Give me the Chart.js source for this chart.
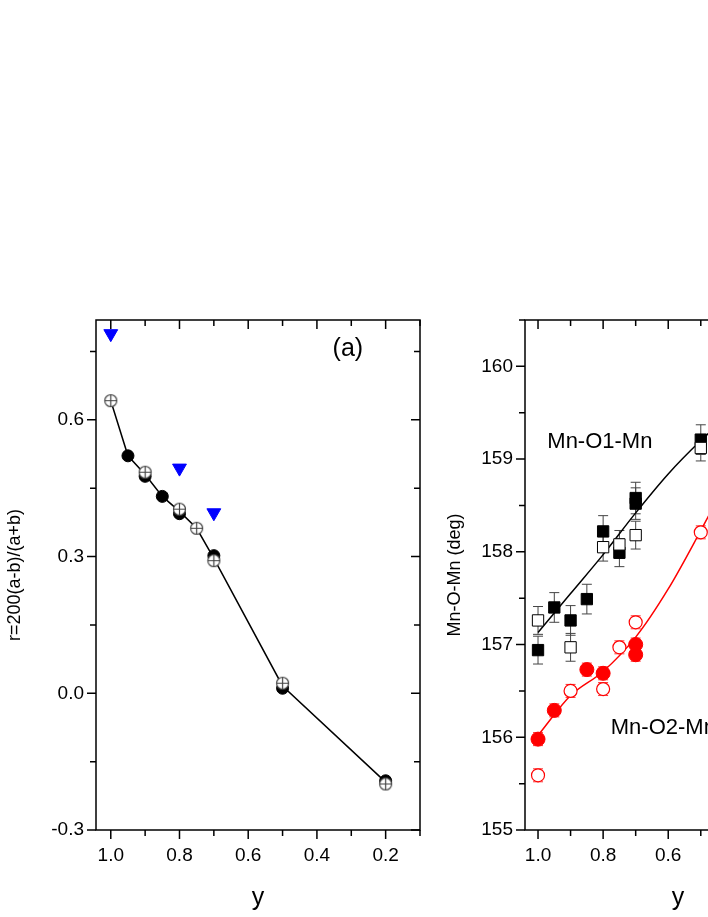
<!DOCTYPE html>
<html>
<head>
<meta charset="utf-8">
<script src="https://cdn.jsdelivr.net/npm/chart.js@4.4.0/dist/chart.umd.min.js"></script>
<style>
  html, body { margin: 0; padding: 0; background: #fff; overflow: hidden; width: 708px; height: 917px; }
  #wrapA { position: absolute; left: 0; top: 0; width: 440px; height: 917px; }
  #wrapB { position: absolute; left: 440px; top: 0; width: 400px; height: 917px; }
</style>
</head>
<body>
<div id="wrapA"><canvas id="chartA"></canvas></div>
<div id="wrapB"><canvas id="chartB"></canvas></div>
<script>
// ---- panel (a) data
const aOpenY = [1.0, 0.9, 0.8, 0.75, 0.7, 0.5, 0.2];
const aOpenR = [0.642, 0.485, 0.404, 0.362, 0.291, 0.022, -0.199];
const aFillY = [0.95, 0.9, 0.85, 0.8, 0.7, 0.5, 0.2];
const aFillR = [0.521, 0.476, 0.432, 0.394, 0.302, 0.011, -0.192];
const aLineY = [1.0, 0.95, 0.9, 0.85, 0.8, 0.75, 0.7, 0.5, 0.2];
const aLineR = [0.642, 0.521, 0.48, 0.432, 0.399, 0.362, 0.296, 0.016, -0.195];
const aTriY = [1.0, 0.8, 0.7];
const aTriR = [0.789, 0.494, 0.396];
const aXTicks = [1.0, 0.8, 0.6, 0.4, 0.2];
const aYTicks = [-0.3, 0.0, 0.3, 0.6];

// ---- panel (b) data
const o1FillY = [1.0, 0.95, 0.9, 0.85, 0.8, 0.75, 0.7, 0.7, 0.5];
const o1FillA = [156.94, 157.40, 157.26, 157.49, 158.22, 157.99, 158.58, 158.52, 159.21];
const o1FillE = [0.15, 0.16, 0.16, 0.16, 0.17, 0.15, 0.17, 0.17, 0.16];
const o1OpenY = [1.0, 0.9, 0.8, 0.75, 0.7, 0.5];
const o1OpenA = [157.26, 156.97, 158.05, 158.08, 158.18, 159.12];
const o1OpenE = [0.15, 0.15, 0.15, 0.15, 0.15, 0.14];
const o1FitY = [1.0, 0.9, 0.8, 0.7, 0.6, 0.5, 0.45];
const o1FitA = [157.13, 157.55, 157.97, 158.42, 158.84, 159.2, 159.36];
const o2FillY = [1.0, 0.95, 0.85, 0.8, 0.7, 0.7];
const o2FillA = [155.98, 156.29, 156.73, 156.69, 157.0, 156.89];
const o2OpenY = [1.0, 0.9, 0.8, 0.75, 0.7, 0.5];
const o2OpenA = [155.59, 156.5, 156.52, 156.97, 157.24, 158.21];
const o2Err = 0.07;
const o2FitY = [1.0, 0.9, 0.8, 0.7, 0.6, 0.5, 0.45];
const o2FitA = [156.02, 156.45, 156.71, 157.08, 157.6, 158.23, 158.56];
const bXTicks = [1.0, 0.8, 0.6, 0.4, 0.2];
const bYTicks = [155, 156, 157, 158, 159, 160];

const FONT = 'Arimo, "Liberation Sans", Arial, sans-serif';
const pts = (xs, ys) => xs.map((x, i) => ({ x: x, y: ys[i] }));

// circle with a cross inside
function crossCircle() {
  const c = document.createElement('canvas');
  c.width = 15; c.height = 15;
  const g = c.getContext('2d');
  g.fillStyle = '#fff';
  g.strokeStyle = '#444';
  g.lineWidth = 1.2;
  g.beginPath(); g.arc(7.5, 7.5, 6, 0, Math.PI * 2); g.fill(); g.stroke();
  g.beginPath(); g.moveTo(1.5, 7.5); g.lineTo(13.5, 7.5); g.moveTo(7.5, 1.5); g.lineTo(7.5, 13.5); g.stroke();
  return c;
}

// frame + in/out ticks, like Origin plots
function framePlugin(xMaj, xMin, yMaj, yMin) {
  return {
    id: 'frame',
    afterDraw(chart) {
      const { ctx, chartArea: a, scales: { x, y } } = chart;
      ctx.save();
      ctx.strokeStyle = '#000';
      ctx.lineWidth = 1.5;
      ctx.strokeRect(a.left, a.top, a.right - a.left, a.bottom - a.top);
      ctx.beginPath();
      const tick = (vals, len) => {
        vals.forEach(v => {
          const px = x.getPixelForValue(v);
          if (px < a.left - 1 || px > a.right + 1) return;
          ctx.moveTo(px, a.bottom); ctx.lineTo(px, a.bottom + len);
          ctx.moveTo(px, a.top); ctx.lineTo(px, a.top + len);
        });
      };
      const tickY = (vals, len) => {
        vals.forEach(v => {
          const py = y.getPixelForValue(v);
          ctx.moveTo(a.left, py); ctx.lineTo(a.left - len, py);
          ctx.moveTo(a.right, py); ctx.lineTo(a.right - len, py);
        });
      };
      tick(xMaj, 9); tick(xMin, 6);
      tickY(yMaj, 9); tickY(yMin, 6);
      ctx.stroke();
      ctx.restore();
    }
  };
}

function textPlugin(items) {
  return {
    id: 'labels',
    afterDraw(chart) {
      const { ctx, scales: { x, y } } = chart;
      ctx.save();
      items.forEach(t => {
        ctx.font = t.size + 'px ' + FONT;
        ctx.fillStyle = '#000';
        ctx.textAlign = 'center';
        ctx.textBaseline = 'middle';
        ctx.fillText(t.text, x.getPixelForValue(t.x), y.getPixelForValue(t.y));
      });
      ctx.restore();
    }
  };
}

const errorBars = {
  id: 'errorBars',
  beforeDatasetsDraw(chart) {
    const { ctx, scales: { x, y } } = chart;
    ctx.save();
    chart.data.datasets.forEach(ds => {
      if (!ds.errors) return;
      ctx.strokeStyle = ds.errColor;
      ctx.lineWidth = 1;
      ds.data.forEach((p, i) => {
        const px = x.getPixelForValue(p.x);
        const e = Array.isArray(ds.errors) ? ds.errors[i] : ds.errors;
        const y1 = y.getPixelForValue(p.y + e), y2 = y.getPixelForValue(p.y - e);
        ctx.beginPath();
        ctx.moveTo(px, y1); ctx.lineTo(px, y2);
        ctx.moveTo(px - 5, y1); ctx.lineTo(px + 5, y1);
        ctx.moveTo(px - 5, y2); ctx.lineTo(px + 5, y2);
        ctx.stroke();
      });
    });
    ctx.restore();
  }
};

function axes(xmin, xmax, ymin, ymax, xTicks, yTicks, yTitle, yWidth, yFmt) {
  return {
    x: {
      type: 'linear', reverse: true, min: xmin, max: xmax,
      grid: { display: false, drawTicks: false }, border: { display: false },
      afterBuildTicks: s => { s.ticks = xTicks.map(v => ({ value: v })); },
      afterFit: s => { s.height = 87; },
      ticks: { color: '#000', font: { family: FONT, size: 19 }, padding: 14, callback: v => v.toFixed(1) },
      title: { display: true, text: 'y', color: '#000', font: { family: FONT, size: 25 }, padding: { top: 12 } }
    },
    y: {
      type: 'linear', min: ymin, max: ymax,
      grid: { display: false, drawTicks: false }, border: { display: false },
      afterBuildTicks: s => { s.ticks = yTicks.map(v => ({ value: v })); },
      afterFit: s => { s.width = yWidth; },
      ticks: { color: '#000', font: { family: FONT, size: 19 }, padding: 12, callback: yFmt },
      title: { display: true, text: yTitle, color: '#000', font: { family: FONT, size: 18 }, padding: { bottom: 4 } }
    }
  };
}

const cc = crossCircle();

new Chart(document.getElementById('chartA'), {
  type: 'scatter',
  data: {
    datasets: [
      { data: pts(aTriY, aTriR), pointStyle: 'triangle', rotation: 180, pointRadius: 8, backgroundColor: '#0000ff', borderColor: '#0000ff' },
      { data: pts(aOpenY, aOpenR), pointStyle: cc },
      { data: pts(aFillY, aFillR), backgroundColor: '#000', borderColor: '#000', pointRadius: 6 },
      { data: pts(aLineY, aLineR), showLine: true, borderColor: '#000', borderWidth: 1.5, pointRadius: 0 }
    ]
  },
  options: {
    responsive: true, maintainAspectRatio: false, animation: false,
    layout: { padding: { top: 320, right: 20, left: 0, bottom: 0 } },
    plugins: { legend: { display: false }, tooltip: { enabled: false } },
    scales: axes(0.1, 1.043, -0.3, 0.819, aXTicks, aYTicks, 'r=200(a-b)/(a+b)', 96, v => v.toFixed(1))
  },
  plugins: [
    framePlugin(aXTicks, [0.9, 0.7, 0.5, 0.3, 0.1], aYTicks, [-0.15, 0.15, 0.45, 0.75]),
    textPlugin([{ text: '(a)', x: 0.31, y: 0.755, size: 25 }])
  ]
});

new Chart(document.getElementById('chartB'), {
  type: 'scatter',
  data: {
    datasets: [
      { data: pts(o1OpenY, o1OpenA), errors: o1OpenE, errColor: '#444', pointStyle: 'rect', pointRadius: 8, backgroundColor: '#fff', borderColor: '#000', borderWidth: 1 },
      { data: pts(o1FillY, o1FillA), errors: o1FillE, errColor: '#444', pointStyle: 'rect', pointRadius: 8, backgroundColor: '#000', borderColor: '#000' },
      { data: pts(o2OpenY, o2OpenA), errors: o2Err, errColor: '#ff3333', pointRadius: 6.5, backgroundColor: '#fff', borderColor: '#ff0000', borderWidth: 1.2 },
      { data: pts(o2FillY, o2FillA), errors: o2Err, errColor: '#ff3333', pointRadius: 7, backgroundColor: '#ff0000', borderColor: '#ff0000' },
      { data: pts(o1FitY, o1FitA), showLine: true, cubicInterpolationMode: 'monotone', borderColor: '#000', borderWidth: 1.5, pointRadius: 0 },
      { data: pts(o2FitY, o2FitA), showLine: true, cubicInterpolationMode: 'monotone', borderColor: '#ff0000', borderWidth: 1.5, pointRadius: 0 }
    ]
  },
  options: {
    responsive: true, maintainAspectRatio: false, animation: false,
    layout: { padding: { top: 320, right: 3, left: 0, bottom: 0 } },
    plugins: { legend: { display: false }, tooltip: { enabled: false } },
    scales: axes(0.1, 1.04, 155, 160.5, bXTicks, bYTicks, 'Mn-O-Mn (deg)', 85, v => String(v))
  },
  plugins: [
    errorBars,
    framePlugin(bXTicks, [0.9, 0.7, 0.5, 0.3, 0.1], bYTicks, [155.5, 156.5, 157.5, 158.5, 159.5, 160.5]),
    textPlugin([
      { text: 'Mn-O1-Mn', x: 0.81, y: 159.18, size: 22 },
      { text: 'Mn-O2-Mn', x: 0.615, y: 156.1, size: 22 }
    ])
  ]
});
</script>
</body>
</html>
